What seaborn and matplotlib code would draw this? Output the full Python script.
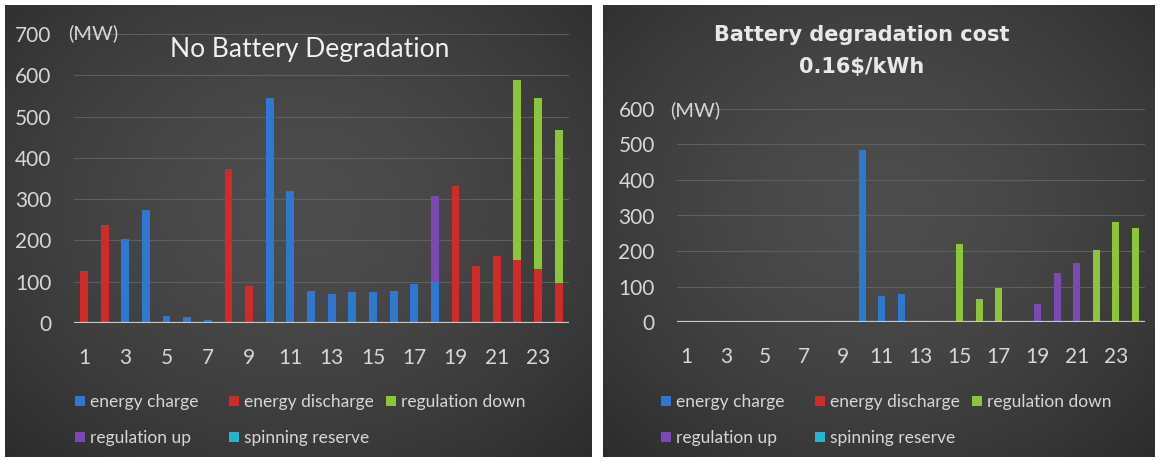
import numpy as np
import pandas as pd
import matplotlib
matplotlib.use("Agg")
import matplotlib.pyplot as plt
import seaborn as sns
from matplotlib.patches import Patch

# ---------------- data ----------------
hours = list(range(1, 25))
tick_hours = list(range(1, 24, 2))

# Left panel: No Battery Degradation (MW)
nd_charge = [0, 0, 203, 273, 18, 14, 8, 0, 0, 545, 319, 77, 71, 75, 75, 77, 94, 100, 0, 0, 0, 0, 0, 0]
nd_discharge = [125, 238, 0, 0, 0, 0, 0, 373, 89, 0, 0, 0, 0, 0, 0, 0, 0, 0, 331, 137, 163, 152, 130, 98]
nd_reg_down = [0] * 21 + [437, 415, 370]
nd_reg_up = [0] * 17 + [207] + [0] * 6
nd_spin = [0] * 24

# Right panel: Battery degradation cost 0.16$/kWh (MW)
dc_charge = [0] * 9 + [484, 73, 78] + [0] * 12
dc_discharge = [0] * 24
dc_reg_down = [0] * 14 + [220, 65, 97] + [0] * 4 + [202, 281, 266]
dc_reg_up = [0] * 18 + [50, 139, 165] + [0] * 3
dc_spin = [0] * 24

series_names = ["energy charge", "energy discharge", "regulation down", "regulation up", "spinning reserve"]
left_title = "No Battery Degradation"
right_title = "Battery degradation cost\n0.16$/kWh"
unit = "(MW)"

# ---------------- style ----------------
C_BLUE = "#2f78cf"
C_RED = "#d12a2b"
C_GREEN = "#8cc43c"
C_PURPLE = "#7c48b4"
C_CYAN = "#25b5cf"
colors = dict(zip(series_names, [C_BLUE, C_RED, C_GREEN, C_PURPLE, C_CYAN]))
TXT = "#d6d6d6"

sns.set_theme(style="dark")
plt.rcParams["font.family"] = ["Lato", "DejaVu Sans"]

W, H = 1161, 461
fig = plt.figure(figsize=(W / 100, H / 100), dpi=100, facecolor="white")


def fx(px):
    return px / W


def fy(py):
    return 1 - py / H


def panel_bg(x0, x1, y0, y1):
    ax = fig.add_axes([fx(x0), fy(y1), fx(x1 - x0), (y1 - y0) / H], zorder=-5)
    nx, ny = 300, 240
    xx, yy = np.meshgrid(np.linspace(-1, 1, nx), np.linspace(-1, 1, ny))
    r = np.sqrt((xx / 1.05) ** 2 + ((yy + 0.1) / 1.1) ** 2)
    r = np.clip(r, 0, 1.4)
    v = 0.30 - 0.13 * (r / 1.4) ** 1.6
    img = np.dstack([v, v, v])
    ax.imshow(img, aspect="auto", extent=[0, 1, 0, 1], interpolation="bilinear")
    ax.set_axis_off()
    return ax


panel_bg(5, 592, 5, 457)
panel_bg(603, 1155, 5, 457)


def draw(ax, charge, discharge, regdown, regup, width, ymax):
    df = pd.DataFrame({
        "hour": hours,
        "charge": charge,
        "discharge": discharge,
        "down_top": np.array(discharge) + np.array(regdown),
        "up_top": np.array(charge) + np.array(regup),
    })
    layers = [("down_top", C_GREEN), ("up_top", C_PURPLE), ("charge", C_BLUE), ("discharge", C_RED)]
    for col, c in layers:
        sns.barplot(data=df, x="hour", y=col, native_scale=True, width=width, color=c,
                    saturation=1, errorbar=None, ax=ax, linewidth=0, zorder=3)
    ax.set_facecolor("none")
    ax.set(xlabel="", ylabel="")
    ax.set_xlim(0.5, 24.5)
    ax.set_ylim(0, ymax)
    ax.set_xticks(tick_hours)
    ax.set_xticklabels([str(h) for h in tick_hours])
    ax.set_yticks(range(0, ymax + 1, 100))
    ax.tick_params(axis="x", length=0, pad=18, labelsize=15, labelcolor=TXT)
    ax.tick_params(axis="y", length=0, pad=16, labelsize=15, labelcolor=TXT)
    for s in ax.spines.values():
        s.set_visible(False)
    ax.grid(axis="y", color="#666666", linewidth=0.8, alpha=0.8, zorder=0)
    ax.grid(axis="x", visible=False)
    ax.axhline(0, color="#c8c8c8", linewidth=1.6, zorder=4)


# left axes
axL = fig.add_axes([fx(73.7), fy(323), fx(569 - 73.7), (323 - 34) / H])
draw(axL, nd_charge, nd_discharge, nd_reg_down, nd_reg_up, 0.38, 700)
# right axes
axR = fig.add_axes([fx(677), fy(322), fx(1145 - 677), (322 - 109) / H])
draw(axR, dc_charge, dc_discharge, dc_reg_down, dc_reg_up, 0.36, 600)

# titles and unit labels
fig.text(fx(310), fy(50), left_title, ha="center", va="center", fontsize=19, color="#f0f0f0")
fig.text(fx(68), fy(33), unit, ha="left", va="center", fontsize=14.5, color=TXT)
fig.text(fx(862), fy(51), right_title, ha="center", va="center", fontsize=15,
         color="#e8e8e8", fontweight="bold", family="DejaVu Sans", linespacing=1.75)
fig.text(fx(670), fy(110), unit, ha="left", va="center", fontsize=14.5, color=TXT)


# legends: three columns per panel
def legends(ax, x0):
    cols = [[series_names[0], series_names[3]], [series_names[1], series_names[4]], [series_names[2]]]
    offsets = [0, 154, 311]
    for names, off in zip(cols, offsets):
        handles = [Patch(facecolor=colors[n], edgecolor="none", label=n) for n in names]
        leg = ax.legend(handles=handles, loc="upper left",
                        bbox_to_anchor=(fx(x0 + off - 4), fy(394)), bbox_transform=fig.transFigure,
                        frameon=False, fontsize=12.5, labelcolor=TXT, handlelength=0.55,
                        handleheight=0.55, handletextpad=0.3, labelspacing=1.15,
                        borderaxespad=0, borderpad=0)
        ax.add_artist(leg)
    ax.legend_ = None


legends(axL, 79)
legends(axR, 665)

fig.savefig("out.png", dpi=100, facecolor="white")
